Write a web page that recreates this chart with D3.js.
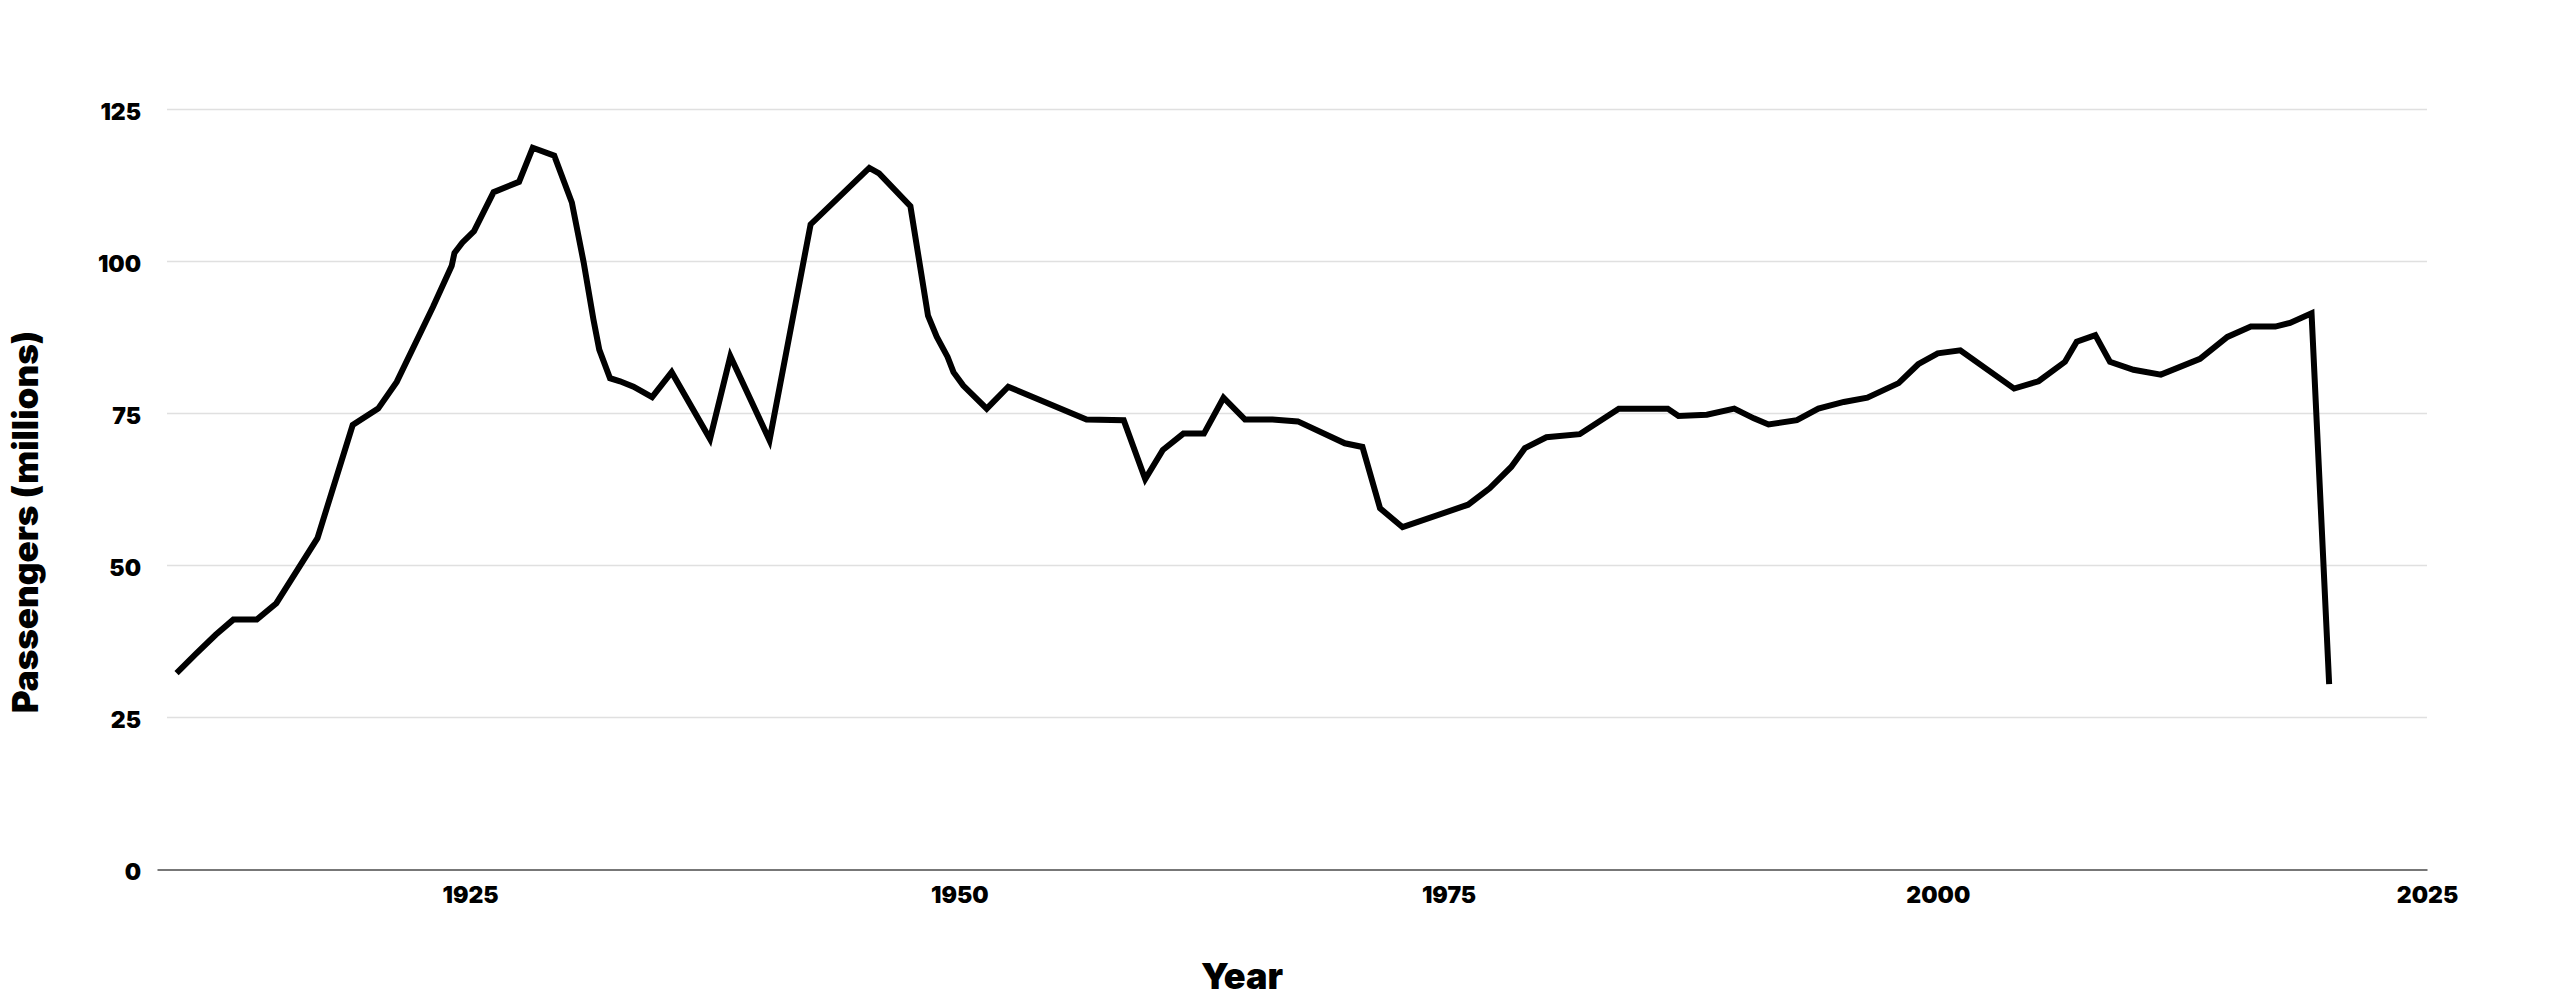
<!DOCTYPE html>
<html>
<head>
<meta charset="utf-8">
<script src="https://cdn.jsdelivr.net/npm/d3@7"></script>
<style>
html,body{margin:0;padding:0;background:#fff;}
svg{display:block;font-family:Inter,"Noto Sans",sans-serif;}
</style>
</head>
<body>
<svg id="chart" width="2560" height="1004"></svg>
<script>
// Data
const years = [1910, 1911, 1912, 1912.9, 1914.1, 1915.1, 1917.2, 1919.0, 1920.3, 1921.25,
  1923.1, 1924.06, 1924.2, 1924.6, 1925.2, 1926.2, 1927.5, 1928.2, 1929.3, 1930.2,
  1930.8, 1931.3, 1931.6, 1932.15, 1932.66, 1933.35, 1934.3, 1935.3, 1937.26, 1938.3,
  1940.3, 1942.4, 1945.4, 1945.9, 1947.5, 1948.4, 1948.85, 1949.4, 1949.7, 1950.2, 1951.4,
  1952.5, 1956.5, 1958.4, 1959.5, 1960.4, 1961.45, 1962.5, 1963.5, 1964.6, 1966.0,
  1967.3, 1969.7, 1970.6, 1971.5, 1972.65, 1976.0, 1977.1, 1978.2, 1978.9, 1980.0,
  1981.7, 1983.7, 1986.2, 1986.75, 1988.2, 1989.6, 1990.6, 1991.35, 1992.8, 1993.9,
  1995.2, 1996.4, 1998.0, 1999.0, 2000.0, 2001.15, 2003.9, 2005.15, 2006.5, 2007.1,
  2008.05, 2008.8, 2010.0, 2011.4, 2013.4, 2014.8, 2016.0, 2017.25, 2018.0, 2019.1,
  2020.0];
const passengers = [32.3, 35.5, 38.6, 41.1, 41.1, 43.8, 54.5, 73.1, 75.8, 80.2,
  92.5, 99.3, 101.4, 103.1, 105.0, 111.4, 113.1, 118.7, 117.4, 109.7,
  99.9, 90.5, 85.5, 80.8, 80.3, 79.4, 77.7, 81.8, 70.8, 84.4,
  70.6, 106.1, 115.4, 114.5, 109.1, 91.1, 87.6, 84.3, 81.8, 79.6, 75.8,
  79.4, 74.0, 73.9, 64.2, 69.0, 71.7, 71.7, 77.6, 74.0, 74.0,
  73.7, 70.1, 69.5, 59.4, 56.3, 60.0, 62.7, 66.2, 69.3, 71.1,
  71.6, 75.8, 75.8, 74.6, 74.8, 75.8, 74.2, 73.2, 73.9, 75.8,
  76.9, 77.6, 80.0, 83.1, 84.9, 85.4, 79.1, 80.3, 83.5, 86.8,
  87.9, 83.5, 82.2, 81.4, 84.0, 87.6, 89.3, 89.3, 89.9, 91.5,
  30.5];
const xTicks = [1925, 1950, 1975, 2000, 2025];
const yTicks = [0, 25, 50, 75, 100, 125];
const xTitle = "Year";
const yTitle = "Passengers (millions)";

const data = years.map((y, i) => ({year: y, value: passengers[i]}));

const svg = d3.select("#chart");
const x = d3.scaleLinear().domain([1909, 2025]).range([157, 2427]);
const y = d3.scaleLinear().domain([0, 125]).range([869.5, 109.5]);

// gridlines
svg.append("g").selectAll("line")
  .data(yTicks.filter(d => d > 0))
  .join("line")
  .attr("x1", 167).attr("x2", x.range()[1])
  .attr("y1", d => y(d)).attr("y2", d => y(d))
  .attr("stroke", "#e0e0e0").attr("stroke-width", 1.5);

// y axis labels
const yAxis = svg.append("g")
  .attr("transform", `translate(${x.range()[0]},0)`)
  .call(d3.axisLeft(y).tickValues(yTicks).tickSize(0).tickPadding(16));
yAxis.select(".domain").remove();
yAxis.selectAll("text")
  .attr("font-family", "Inter, 'Noto Sans', sans-serif")
  .attr("font-size", 23).attr("font-weight", 900).attr("fill", "#000")
  .attr("dy", "0.42em");

// x axis
const xAxis = svg.append("g")
  .attr("transform", `translate(0,${y(0)})`)
  .call(d3.axisBottom(x).tickValues(xTicks).tickFormat(d3.format("d")).tickSize(0).tickSizeOuter(0).tickPadding(17));
xAxis.select(".domain").attr("stroke", "#777").attr("stroke-width", 2);
xAxis.selectAll("text")
  .attr("font-family", "Inter, 'Noto Sans', sans-serif")
  .attr("font-size", 23).attr("font-weight", 900).attr("fill", "#000");

// line
const line = d3.line().x(d => x(d.year)).y(d => y(d.value));
svg.append("path")
  .datum(data)
  .attr("d", line)
  .attr("fill", "none")
  .attr("stroke", "#000")
  .attr("stroke-width", 6)
  .attr("stroke-linejoin", "miter")
  .attr("stroke-linecap", "butt");

// titles
svg.append("text")
  .attr("x", 1242).attr("y", 976)
  .attr("text-anchor", "middle").attr("dominant-baseline", "central")
  .attr("font-size", 36).attr("font-weight", 900).attr("fill", "#000")
  .text(xTitle);
svg.append("text")
  .attr("transform", "translate(25,522) rotate(-90)")
  .attr("text-anchor", "middle").attr("dominant-baseline", "central")
  .attr("font-size", 35).attr("font-weight", 900).attr("fill", "#000")
  .text(yTitle);
</script>
</body>
</html>
